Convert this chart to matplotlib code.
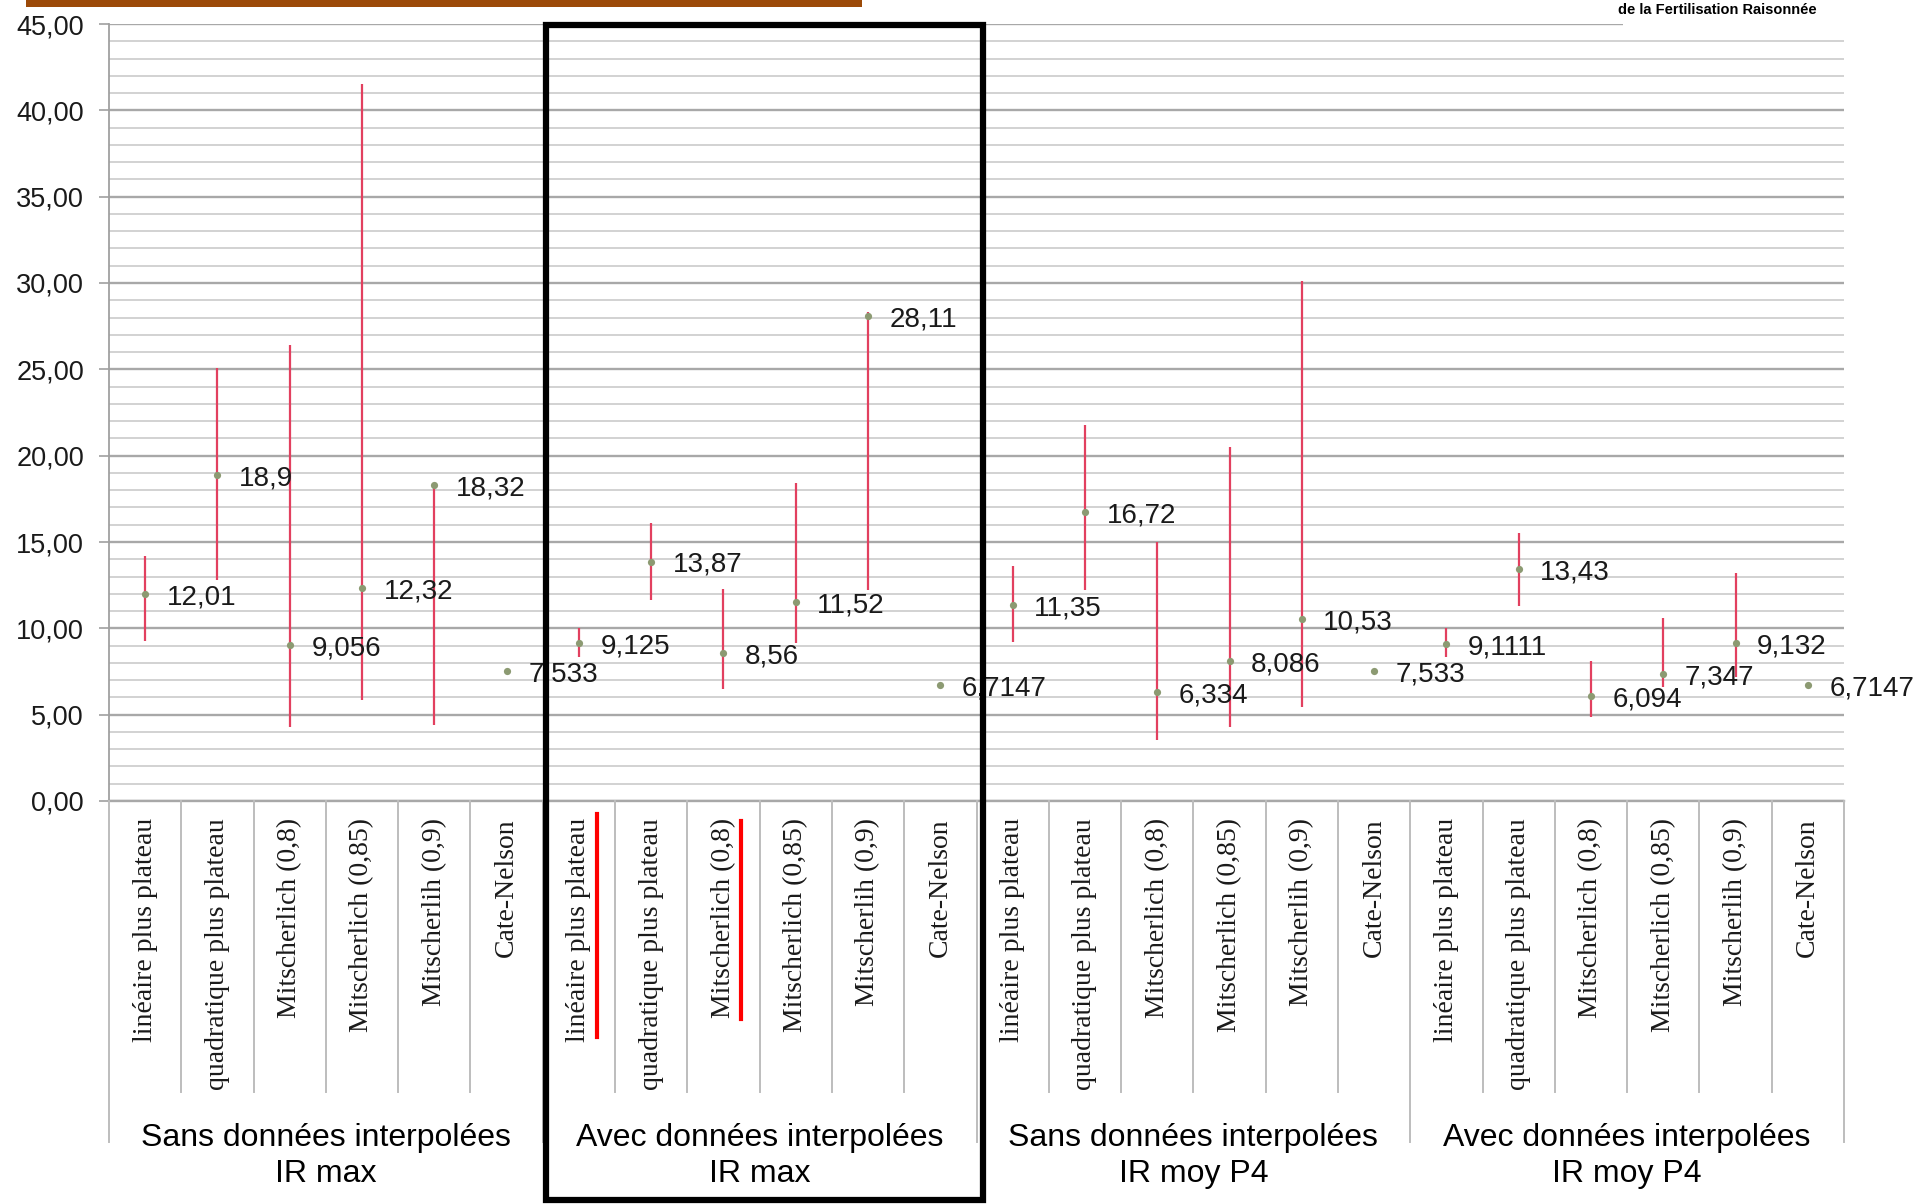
import matplotlib
matplotlib.use("Agg")
import matplotlib.pyplot as plt
import numpy as np
from matplotlib.patches import Rectangle
from matplotlib.lines import Line2D
from matplotlib.transforms import blended_transform_factory
from matplotlib.ticker import MultipleLocator, FuncFormatter

# ---------------- data ----------------
methods = ["linéaire plus plateau", "quadratique plus plateau", "Mitscherlich (0,8)",
           "Mitscherlich (0,85)", "Mitscherlih (0,9)", "Cate-Nelson"]
groups = ["Sans données interpolées\nIR max", "Avec données interpolées\nIR max",
          "Sans données interpolées\nIR moy P4", "Avec données interpolées\nIR moy P4"]

values = [12.01, 18.9, 9.056, 12.32, 18.32, 7.533,
          9.125, 13.87, 8.56, 11.52, 28.11, 6.7147,
          11.35, 16.72, 6.334, 8.086, 10.53, 7.533,
          9.1111, 13.43, 6.094, 7.347, 9.132, 6.7147]
value_labels = ["12,01", "18,9", "9,056", "12,32", "18,32", "7,533",
                "9,125", "13,87", "8,56", "11,52", "28,11", "6,7147",
                "11,35", "16,72", "6,334", "8,086", "10,53", "7,533",
                "9,1111", "13,43", "6,094", "7,347", "9,132", "6,7147"]
range_high = [14.2, 25.1, 26.4, 41.5, 18.4, None,
              10.0, 16.1, 12.3, 18.4, 28.3, None,
              13.6, 21.8, 15.0, 20.5, 30.1, None,
              10.0, 15.5, 8.1, 10.6, 13.2, None]
range_low = [9.25, 12.8, 4.3, 5.85, 4.4, None,
             8.35, 11.64, 6.5, 9.15, 12.2, None,
             9.22, 12.2, 3.53, 4.3, 5.46, None,
             8.36, 11.29, 4.88, 6.6, 7.2, None]

# ---------------- figure ----------------
W, H = 1919, 1204
fig = plt.figure(figsize=(W / 100, H / 100), dpi=100)
fig.patch.set_facecolor("white")

def fx(px):
    return px / W

def fy(py):
    return 1 - py / H

ax_l, ax_r, ax_t, ax_b = 109, 1844, 24, 801
ax = fig.add_axes([fx(ax_l), fy(ax_b), fx(ax_r - ax_l), (ax_b - ax_t) / H])

n_cat = len(methods) * len(groups)
x = np.arange(n_cat) + 0.5
ax.set_xlim(0, n_cat)
ax.set_ylim(0, 45)

# grid
ax.yaxis.set_major_locator(MultipleLocator(5))
ax.yaxis.set_minor_locator(MultipleLocator(1))
ax.yaxis.set_major_formatter(FuncFormatter(lambda v, p: f"{v:.2f}".replace(".", ",")))
ax.grid(which="major", axis="y", color="#a8a8a8", lw=1.7, zorder=0)
ax.grid(which="minor", axis="y", color="#d2d2d2", lw=1.4, zorder=0)
ax.set_axisbelow(True)
ax.tick_params(axis="y", which="major", length=7, width=1.2, color="#a0a0a0",
               labelsize=19.5, pad=11, labelcolor="#1a1a1a")
ax.tick_params(axis="y", which="minor", length=0)
ax.tick_params(axis="x", which="both", length=0, labelbottom=False)
for t in ax.get_yticklabels():
    t.set_fontfamily("Liberation Sans")
for s in ["top", "right", "bottom"]:
    ax.spines[s].set_visible(False)
ax.spines["left"].set_color("#a0a0a0")
ax.spines["left"].set_linewidth(1.3)

# ranges and points
hi = np.array([np.nan if v is None else v for v in range_high])
lo = np.array([np.nan if v is None else v for v in range_low])
mask = ~np.isnan(hi)
ax.vlines(x[mask], lo[mask], hi[mask], color="#e2405f", lw=1.6, zorder=3)
ax.plot(x, values, "o", ms=5.2, color="#8c9a72", zorder=4, mec="none")
for xi, v, lab in zip(x, values, value_labels):
    ax.annotate(lab, (xi, v), xytext=(15.5, -2.5), textcoords="offset points",
                ha="left", va="center", fontsize=20, family="Liberation Sans",
                color="#1a1a1a", zorder=5)

# category axis (below)
trans = blended_transform_factory(ax.transData, fig.transFigure)
gray = "#bdbdbd"
fig.add_artist(Line2D([fx(ax_l), fx(ax_r)], [fy(ax_b), fy(ax_b)],
                      transform=fig.transFigure, color="#a8a8a8", lw=1.7))
for k in range(n_cat + 1):
    bottom = 1142 if k % len(methods) == 0 else 1092
    fig.add_artist(Line2D([k, k], [fy(ax_b), fy(bottom)], transform=trans,
                          color=gray, lw=1.4))
for k, xi in enumerate(x):
    ax.text(xi, fy(818), methods[k % len(methods)], transform=trans, rotation=90,
            ha="center", va="top", fontsize=20, family="Liberation Serif",
            color="#1a1a1a", clip_on=False)
for g, lab in enumerate(groups):
    xc = g * len(methods) + len(methods) / 2
    ax.text(xc, fy(1156), lab, transform=trans, ha="center", va="center",
            fontsize=23, family="Liberation Sans", color="black",
            linespacing=1.3, clip_on=False)

# red underline marks
fig.add_artist(Line2D([fx(597), fx(597)], [fy(814), fy(1037)],
                      transform=fig.transFigure, color="#ff0000", lw=3))
fig.add_artist(Line2D([fx(741), fx(741)], [fy(821), fy(1019)],
                      transform=fig.transFigure, color="#ff0000", lw=3))

# black highlight box
fig.add_artist(Rectangle((fx(546), fy(1200)), fx(983 - 546), (1200 - 25) / H,
                         transform=fig.transFigure, fill=False, ec="black",
                         lw=4.5, zorder=10))

# header decorations
fig.add_artist(Rectangle((fx(26), fy(7)), fx(862 - 26), 7 / H,
                         transform=fig.transFigure, fc="#9c4a08", ec="none", zorder=10))
fig.add_artist(Rectangle((fx(1623), fy(30)), fx(W - 1623), 30 / H,
                         transform=fig.transFigure, fc="white", ec="none", zorder=9))
fig.text(fx(1717), fy(10), "de la Fertilisation Raisonnée", ha="center", va="center",
         fontsize=10.5, fontweight="bold", family=["Liberation Sans Narrow", "Liberation Sans"],
         color="black", zorder=11)

fig.savefig("out.png", dpi=100, facecolor="white")
